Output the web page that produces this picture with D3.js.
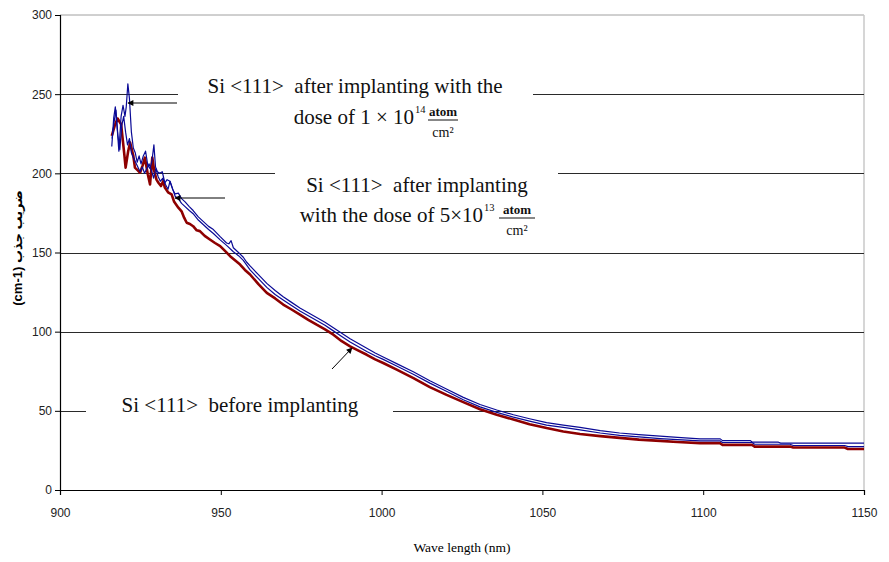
<!DOCTYPE html>
<html>
<head>
<meta charset="utf-8">
<script src="https://cdn.jsdelivr.net/npm/d3@7"></script>
<style>
  html, body { margin: 0; padding: 0; background: #fff; }
  svg { display: block; }
</style>
</head>
<body>
<svg id="chart" width="889" height="562"></svg>
<script>
// Axis ticks
const wavelengthTicks = [900, 950, 1000, 1050, 1100, 1150];
const absorptionTicks = [0, 50, 100, 150, 200, 250, 300];

// Si <111> before implanting
const beforeWave = [916.1, 917.0, 917.9, 919.0, 920.0, 920.4, 921.2, 921.8, 922.8, 923.3, 924.1, 924.9, 925.7, 926.4, 927.3, 928.0, 928.7, 929.3, 930.0, 930.6, 931.4, 932.1, 932.6, 933.6, 934.7, 935.5, 936.8, 937.8, 938.6, 939.4, 940.4, 941.4, 942.5, 943.5, 945.0, 946.6, 948.2, 949.8, 951.3, 952.9, 954.5, 956.0, 957.5, 959.1, 961.7, 964.3, 966.9, 969.4, 972.0, 974.6, 977.2, 979.8, 982.4, 985.0, 987.6, 990.2, 992.8, 995.4, 998.0, 1000.5, 1004.7, 1009.9, 1015.0, 1020.2, 1025.4, 1030.6, 1035.8, 1041.0, 1046.0, 1051.3, 1056.5, 1061.7, 1068.0, 1074.0, 1080.0, 1086.6, 1092.0, 1099.0, 1105.2, 1106.0, 1115.2, 1116.0, 1127.0, 1128.0, 1144.0, 1145.0, 1150.0];
const beforeAbs = [223.6, 230, 234.6, 231, 212, 203.6, 214, 219.4, 211, 203.6, 202, 200.4, 205, 209.9, 199.4, 193, 210, 201.5, 196, 194.1, 192, 195.1, 191, 188, 186.7, 182, 178.3, 176, 172, 168.8, 168, 166.6, 164, 163.5, 160.5, 158.2, 156, 154, 151, 147.7, 145, 142.4, 139, 136.1, 130, 124.5, 121, 117.1, 114, 110.8, 107.5, 104.4, 101.5, 98.1, 94, 90.7, 88, 85.4, 82.5, 80.2, 76, 70.7, 65, 60.1, 55.5, 51, 47.5, 44.5, 41.5, 39.1, 37, 35.4, 34, 32.9, 31.8, 31, 30.3, 29.6, 29.6, 28.5, 28.5, 27.4, 27.4, 26.8, 26.8, 25.9, 25.9];

// Si <111> after implanting, dose 5x10^13 atom/cm2
const dose13Wave = [916.2, 916.8, 917.4, 918.0, 918.6, 919.2, 919.8, 920.4, 921.0, 921.6, 922.2, 922.8, 923.5, 924.2, 924.9, 925.6, 926.3, 927.0, 927.7, 928.4, 929.1, 929.8, 930.5, 931.2, 932.0, 932.8, 933.6, 934.2, 934.9, 935.8, 936.8, 937.8, 938.9, 940.2, 941.4, 943.0, 944.6, 946.2, 947.7, 949.8, 951.8, 953.9, 955.5, 957.0, 959.1, 961.7, 964.3, 966.9, 969.4, 972.0, 974.6, 977.2, 979.8, 982.4, 985.0, 987.6, 990.2, 992.8, 995.4, 998.0, 1000.5, 1005.0, 1010.0, 1015.0, 1020.0, 1025.4, 1030.6, 1035.8, 1041.0, 1046.0, 1051.3, 1056.5, 1061.7, 1068.0, 1074.0, 1080.0, 1086.6, 1092.0, 1099.0, 1105.3, 1106.0, 1115.2, 1116.0, 1127.0, 1128.0, 1144.0, 1145.0, 1150.0];
const dose13Abs = [222, 232, 240, 224, 215, 230, 236, 226, 218, 222, 213, 210, 207, 204, 201, 204, 200, 203, 206, 202, 197, 203, 198, 195, 197, 193, 190, 195, 191, 185.5, 184, 181, 179, 176.5, 174.5, 170.5, 167.5, 164.5, 162, 158, 154.5, 150.5, 148, 145, 139, 133.5, 128, 123.5, 120, 116.5, 113, 110, 107, 104, 100.5, 97, 93.5, 90.5, 87.5, 84.8, 82.5, 78, 73, 67.5, 62.5, 57, 52.5, 49, 46, 43.5, 41, 39.5, 38, 36, 34.5, 33.5, 32.5, 31.8, 31, 31, 30, 30, 28.9, 28.9, 28.1, 28.1, 27.4, 27.4];

// Si <111> after implanting, dose 1x10^14 atom/cm2
const dose14Wave = [916.1, 916.7, 917.2, 917.8, 918.3, 919.0, 919.6, 920.2, 920.6, 921.1, 921.6, 922.2, 922.8, 923.4, 924.0, 924.6, 925.2, 925.9, 926.6, 927.3, 928.0, 928.6, 929.2, 929.7, 930.3, 931.0, 931.8, 932.6, 933.3, 934.2, 935.0, 935.8, 936.8, 937.8, 938.9, 940.2, 941.4, 943.0, 944.6, 946.2, 947.7, 949.8, 951.8, 952.5, 953.2, 953.9, 955.5, 957.0, 958.0, 959.1, 961.7, 964.3, 966.9, 969.4, 972.0, 974.6, 977.2, 979.8, 982.4, 985.0, 987.6, 990.2, 992.8, 995.4, 998.0, 1000.5, 1005.0, 1010.0, 1015.0, 1020.0, 1025.4, 1030.6, 1035.8, 1041.0, 1046.0, 1051.3, 1056.5, 1061.7, 1068.0, 1074.0, 1080.0, 1086.6, 1092.0, 1099.0, 1105.3, 1106.0, 1114.6, 1115.3, 1123.4, 1124.1, 1150.0];
const dose14Abs = [217, 235, 242, 228, 214, 236, 243, 236, 242, 256.5, 247, 226, 216, 213, 207, 211, 206, 211, 214, 205, 203, 208, 218, 204, 201, 200, 201, 194, 196, 195, 190, 187, 187.5, 184, 182, 179, 176.5, 172.5, 169.5, 166.5, 164.5, 160, 156, 155.5, 157.5, 153, 150, 147, 144, 141.5, 136, 130.5, 126, 122, 118.5, 115, 112, 109, 106, 102.5, 99, 95.5, 92.5, 89.5, 86.5, 84, 79.5, 74.5, 69, 64, 58.5, 54, 50.5, 47.5, 45, 42.5, 41, 39.5, 37.5, 36, 35, 34, 33.2, 32.3, 32.3, 31.2, 31.2, 30.2, 30.2, 29.6, 29.6];

const svg = d3.select("#chart");
const plot = { left: 60, right: 864, top: 15, bottom: 490 };

const x = d3.scaleLinear().domain([900, 1150]).range([plot.left, plot.right]);
const y = d3.scaleLinear().domain([0, 300]).range([plot.bottom, plot.top]);

// arrowhead
svg.append("defs").append("marker")
  .attr("id", "arrow")
  .attr("viewBox", "0 0 10 10")
  .attr("refX", 9).attr("refY", 5)
  .attr("markerWidth", 7).attr("markerHeight", 6)
  .attr("markerUnits", "userSpaceOnUse")
  .attr("orient", "auto")
  .append("path").attr("d", "M0,0 L10,5 L0,10 Z").attr("fill", "#000");

// plot frame (top and right, light)
svg.append("line").attr("x1", plot.left).attr("x2", plot.right)
  .attr("y1", y(300)).attr("y2", y(300)).attr("stroke", "#a0a0a0").attr("stroke-width", 1);
svg.append("line").attr("x1", plot.right).attr("x2", plot.right)
  .attr("y1", plot.top).attr("y2", plot.bottom).attr("stroke", "#c8c8c8").attr("stroke-width", 1.5);

// horizontal gridlines
svg.append("g").selectAll("line")
  .data(absorptionTicks.filter(d => d > 0 && d < 300))
  .join("line")
  .attr("x1", plot.left).attr("x2", plot.right)
  .attr("y1", d => Math.round(y(d)) + 0.5).attr("y2", d => Math.round(y(d)) + 0.5)
  .attr("stroke", "#2a2a2a").attr("stroke-width", 1);

// curves
const line = d3.line().x(d => x(d[0])).y(d => y(d[1]));
const series = [
  { wave: beforeWave, abs: beforeAbs, color: "#8e0000", width: 2.6 },
  { wave: dose13Wave, abs: dose13Abs, color: "#0a0a96", width: 1.2 },
  { wave: dose14Wave, abs: dose14Abs, color: "#0a0a96", width: 1.2 }
];
svg.append("g").selectAll("path")
  .data(series)
  .join("path")
  .attr("d", s => line(s.wave.map((w, i) => [w, s.abs[i]])))
  .attr("fill", "none")
  .attr("stroke", s => s.color)
  .attr("stroke-width", s => s.width)
  .attr("stroke-linejoin", "round");

// axes
const xAxis = d3.axisBottom(x).tickValues(wavelengthTicks).tickSize(5).tickFormat(d3.format("d"));
const yAxis = d3.axisLeft(y).tickValues(absorptionTicks).tickSize(5).tickFormat(d3.format("d"));

const gx = svg.append("g").attr("transform", `translate(0,${plot.bottom})`).call(xAxis);
const gy = svg.append("g").attr("transform", `translate(${plot.left},0)`).call(yAxis);
[gx, gy].forEach(g => {
  g.select(".domain").attr("stroke", "#000").attr("stroke-width", 1.2);
  g.selectAll(".tick line").attr("stroke", "#000");
  g.selectAll(".tick text")
    .attr("font-family", "'Liberation Sans', Arial, sans-serif")
    .attr("font-size", 12).attr("fill", "#222");
});
gx.selectAll(".tick text").attr("dy", "1.55em");
gy.selectAll(".tick text").attr("x", -8);

// axis titles
svg.append("text")
  .attr("x", 462).attr("y", 552)
  .attr("text-anchor", "middle")
  .attr("font-family", "'Liberation Serif', 'Times New Roman', serif")
  .attr("font-size", 13.5)
  .text("Wave length (nm)");

svg.append("text")
  .attr("transform", "translate(22,248) rotate(-90)")
  .attr("text-anchor", "middle")
  .attr("font-family", "'Liberation Sans', Arial, 'DejaVu Sans', sans-serif")
  .attr("font-weight", "bold")
  .attr("font-size", 13)
  .text("(cm-1) ضریب جذب");

// label boxes (cover the gridlines behind the text)
const serif = "'Liberation Serif', 'Times New Roman', serif";
const boxes = [
  { x0: 178, x1: 533, y0: 68, y1: 142 },
  { x0: 275, x1: 558, y0: 166, y1: 242 },
  { x0: 86, x1: 393, y0: 392, y1: 424 }
];
svg.append("g").selectAll("rect").data(boxes).join("rect")
  .attr("x", b => b.x0).attr("y", b => b.y0)
  .attr("width", b => b.x1 - b.x0).attr("height", b => b.y1 - b.y0)
  .attr("fill", "#fff");

function txt(xp, yp, s, opts = {}) {
  return svg.append("text")
    .attr("x", xp).attr("y", yp)
    .attr("text-anchor", opts.anchor || "middle")
    .attr("font-family", opts.family || serif)
    .attr("font-size", opts.size || 21)
    .attr("font-weight", opts.weight || "normal")
    .attr("fill", "#111")
    .attr("xml:space", "preserve")
    .text(s);
}
function fraction(cx, yBar, halfW) {
  txt(cx, yBar - 4, "atom", { size: 13, weight: "bold" });
  svg.append("line").attr("x1", cx - halfW).attr("x2", cx + halfW)
    .attr("y1", yBar).attr("y2", yBar).attr("stroke", "#111").attr("stroke-width", 1);
  txt(cx, yBar + 17, "cm²", { size: 14 });
}

// dose 1x10^14 label
txt(355, 93, "Si <111>  after implanting with the");
txt(414, 124, "dose of 1 × 10", { anchor: "end" });
txt(415, 113, "14", { anchor: "start", size: 10.5 });
fraction(443, 120, 15);

// dose 5x10^13 label
txt(417, 192, "Si <111>  after implanting");
txt(483, 222, "with the dose of 5×10", { anchor: "end" });
txt(484, 211, "13", { anchor: "start", size: 10.5 });
fraction(517, 218, 18);

// before label
txt(240, 412, "Si <111>  before implanting");

// pointer arrows
const arrows = [
  { x1: 177, y1: 103, x2: 128, y2: 103 },
  { x1: 225, y1: 198, x2: 175, y2: 198 },
  { x1: 332, y1: 369, x2: 352, y2: 348 }
];
svg.append("g").selectAll("line").data(arrows).join("line")
  .attr("x1", a => a.x1).attr("y1", a => a.y1)
  .attr("x2", a => a.x2).attr("y2", a => a.y2)
  .attr("stroke", "#000").attr("stroke-width", 1)
  .attr("marker-end", "url(#arrow)");
</script>
</body>
</html>
